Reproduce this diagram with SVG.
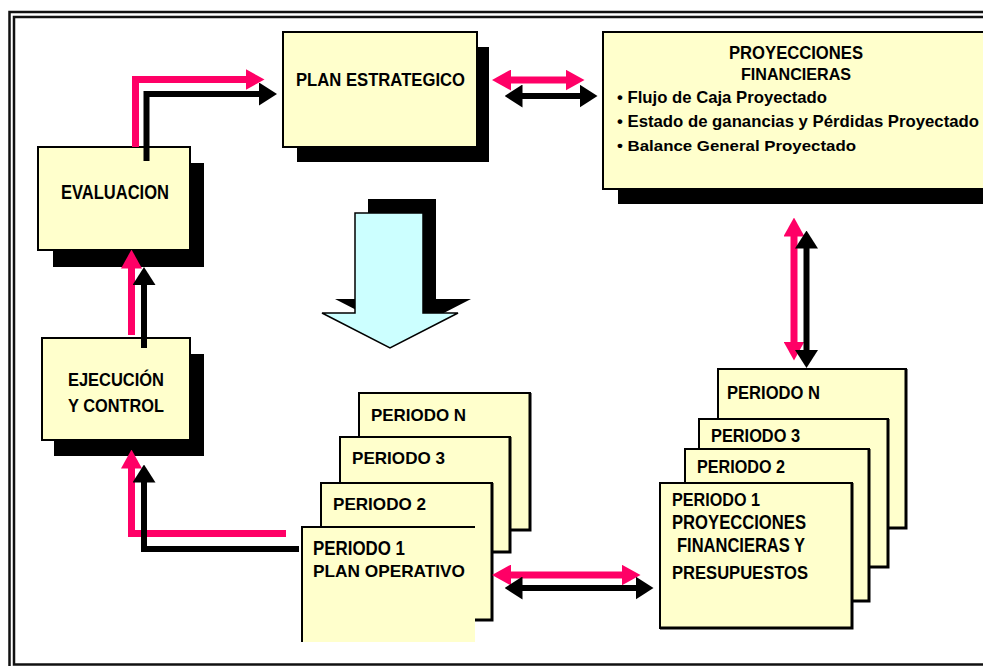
<svg xmlns="http://www.w3.org/2000/svg" width="983" height="666" viewBox="0 0 983 666">
<style>
.bg{fill:#fff}
.frame{fill:none;stroke:#111;stroke-width:2.5}
.box{fill:#FFFFCC;stroke:#000;stroke-width:2}
.sh{fill:#000}
.edge{fill:none;stroke:#000;stroke-width:3}
.t{font-family:"Liberation Sans",Arial,Helvetica,sans-serif;font-weight:bold;fill:#000}
.pk{fill:none;stroke:#FF0066;stroke-width:7;stroke-linejoin:miter}
.bk{fill:none;stroke:#000;stroke-width:6;stroke-linejoin:miter}
.pk2{fill:none;stroke:#FF0066;stroke-width:7;marker-end:url(#ph);marker-start:url(#ph)}
.bk2{fill:none;stroke:#000;stroke-width:6;marker-end:url(#bh);marker-start:url(#bh)}
</style>
<defs>
<marker id="ph" markerUnits="userSpaceOnUse" viewBox="0 0 19 21" markerWidth="19" markerHeight="21" refX="0.5" refY="10.5" orient="auto-start-reverse"><path d="M0,0 L19,10.5 L0,21 Z" fill="#FF0066"/></marker>
<marker id="bh" markerUnits="userSpaceOnUse" viewBox="0 0 18 23" markerWidth="18" markerHeight="23" refX="0.5" refY="11.5" orient="auto-start-reverse"><path d="M0,0 L18,11.5 L0,23 Z" fill="#000"/></marker>
</defs>
<rect class="bg" x="0" y="0" width="983" height="666"/>
<g id="frame">
<rect class="frame" x="9.5" y="12" width="990" height="660"/>
<rect class="frame" x="14" y="17" width="980" height="647.5"/>
</g>

<g id="plan-estrategico">
<rect class="sh" x="297" y="47" width="192" height="115"/>
<rect class="box" x="283" y="32" width="194" height="115"/>
<text class="t" x="296" y="86" font-size="18" textLength="169" lengthAdjust="spacingAndGlyphs">PLAN ESTRATEGICO</text>
</g>

<g id="proyecciones-financieras">
<rect class="sh" x="618" y="47" width="400" height="157"/>
<rect class="box" x="603" y="32" width="400" height="157"/>
<text class="t" x="729" y="59" font-size="19" textLength="134" lengthAdjust="spacingAndGlyphs">PROYECCIONES</text>
<text class="t" x="741" y="80" font-size="17" textLength="110" lengthAdjust="spacingAndGlyphs">FINANCIERAS</text>
<text class="t" x="617" y="102.5" font-size="17" textLength="210" lengthAdjust="spacingAndGlyphs">• Flujo de Caja Proyectado</text>
<text class="t" x="617" y="126.5" font-size="17" textLength="362" lengthAdjust="spacingAndGlyphs">• Estado de ganancias y Pérdidas Proyectado</text>
<text class="t" x="617" y="150.5" font-size="14.5" textLength="239" lengthAdjust="spacingAndGlyphs">• Balance General Proyectado</text>
</g>

<g id="evaluacion">
<rect class="sh" x="53" y="163" width="151" height="104"/>
<rect class="box" x="38" y="147" width="152" height="103"/>
<text class="t" x="61" y="199" font-size="20" textLength="108" lengthAdjust="spacingAndGlyphs">EVALUACION</text>
</g>

<g id="ejecucion-control">
<rect class="sh" x="54" y="354" width="150" height="102"/>
<rect class="box" x="42" y="338" width="148" height="102"/>
<text class="t" x="68" y="385.5" font-size="19" textLength="96" lengthAdjust="spacingAndGlyphs">EJECUCIÓN</text>
<text class="t" x="68" y="411.5" font-size="19" textLength="96" lengthAdjust="spacingAndGlyphs">Y CONTROL</text>
</g>

<g id="flecha-central">
<polygon class="sh" points="368,199 436,199 436,299 471,299 403,334 335,299 368,299"/>
<polygon points="355,213 423,213 423,313 458,313 390,348 322,313 355,313" fill="#CCFFFF" stroke="#000" stroke-width="1.5"/>
</g>

<g id="plan-operativo-periodos">
<g id="po-periodo-n">
<rect class="box" x="359" y="393" width="171" height="137"/>
<path class="edge" d="M530,393 V530 H359"/>
<text class="t" x="371" y="420.5" font-size="17" textLength="95" lengthAdjust="spacingAndGlyphs">PERIODO N</text>
</g>
<g id="po-periodo-3">
<rect class="box" x="340" y="437" width="170" height="115"/>
<path class="edge" d="M510,437 V552 H340"/>
<text class="t" x="352" y="464.3" font-size="17" textLength="93" lengthAdjust="spacingAndGlyphs">PERIODO 3</text>
</g>
<g id="po-periodo-2">
<rect class="box" x="321" y="483" width="171" height="137"/>
<path class="edge" d="M492,483 V620 H321"/>
<text class="t" x="333" y="510" font-size="16.5" textLength="93" lengthAdjust="spacingAndGlyphs">PERIODO 2</text>
</g>
<g id="po-periodo-1">
<rect x="302" y="527" width="173" height="115" fill="#FFFFCC"/>
<path d="M302,642 V527 H475" fill="none" stroke="#000" stroke-width="2"/>
<text class="t" x="313" y="555" font-size="20" textLength="92" lengthAdjust="spacingAndGlyphs">PERIODO 1</text>
<text class="t" x="313" y="576.7" font-size="17" textLength="152" lengthAdjust="spacingAndGlyphs">PLAN OPERATIVO</text>
</g>
</g>

<g id="proyecciones-periodos">
<g id="pf-periodo-n">
<rect class="box" x="718" y="369" width="188" height="159"/>
<path class="edge" d="M906,369 V528 H718"/>
<text class="t" x="727" y="399" font-size="19" textLength="93" lengthAdjust="spacingAndGlyphs">PERIODO N</text>
</g>
<g id="pf-periodo-3">
<rect class="box" x="699" y="419" width="189" height="148"/>
<path class="edge" d="M888,419 V567 H699"/>
<text class="t" x="711" y="441.7" font-size="18" textLength="89" lengthAdjust="spacingAndGlyphs">PERIODO 3</text>
</g>
<g id="pf-periodo-2">
<rect class="box" x="685" y="449" width="184" height="152"/>
<path class="edge" d="M869,449 V601 H685"/>
<text class="t" x="697" y="473.3" font-size="18" textLength="88" lengthAdjust="spacingAndGlyphs">PERIODO 2</text>
</g>
<g id="pf-periodo-1">
<rect class="box" x="660" y="483" width="192" height="145"/>
<path class="edge" d="M852,483 V628 H660"/>
<text class="t" x="672" y="506" font-size="17.5" textLength="88" lengthAdjust="spacingAndGlyphs">PERIODO 1</text>
<text class="t" x="672" y="529.3" font-size="19.5" textLength="134" lengthAdjust="spacingAndGlyphs">PROYECCIONES</text>
<text class="t" x="677" y="551.7" font-size="20" textLength="128" lengthAdjust="spacingAndGlyphs">FINANCIERAS Y</text>
<text class="t" x="672" y="579.3" font-size="17.5" textLength="136" lengthAdjust="spacingAndGlyphs">PRESUPUESTOS</text>
</g>
</g>

<g id="connectors">
<path class="pk" d="M135.5,147 V79.5 H246" marker-end="url(#ph)"/>
<path class="bk" d="M146.5,161 V94 H259.5" marker-end="url(#bh)"/>
<path class="pk2" d="M510.5,80 H566"/>
<path class="bk2" d="M522,96 H580"/>
<path class="pk2" d="M794,236 V342"/>
<path class="bk2" d="M806.5,248 V350.5"/>
<path class="pk" d="M131.5,335 V268" marker-end="url(#ph)"/>
<path class="bk" d="M144,348 V284.5" marker-end="url(#bh)"/>
<path class="pk" d="M286,533.5 H131.5 V468" marker-end="url(#ph)"/>
<path class="bk" d="M299,549 H144 V482" marker-end="url(#bh)"/>
<path class="pk2" d="M510.5,575 H622"/>
<path class="bk2" d="M522,588 H636"/>
</g>
</svg>
